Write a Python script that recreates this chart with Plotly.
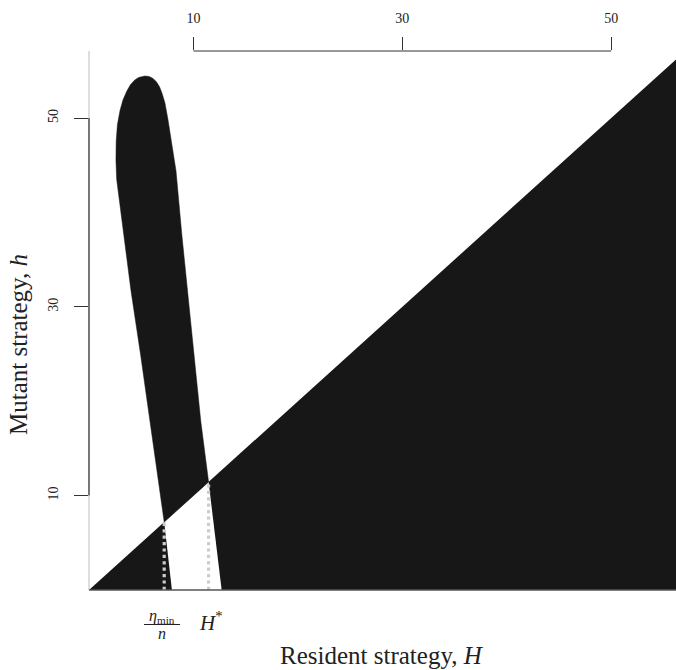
import plotly.graph_objects as go

# ---- data ----
tick_vals = [10, 30, 50]
tick_text = ["10", "30", "50"]

eta_min_n = 7.2      # left boundary meets the diagonal
H_star = 11.45       # right boundary meets the diagonal

# left boundary of the loop, from h=0 up to the cap
left_H = [7.94, 7.2, 6.45, 5.74, 4.93, 4.02, 3.35, 2.85, 2.65, 2.58, 2.6, 2.72, 2.97, 3.25, 3.6, 3.95, 4.35, 4.75, 5.1, 5.36]
left_h = [0.0, 7.2, 13.0, 19.0, 25.0, 31.7, 37.5, 41.5, 43.5, 45.5, 47.5, 49.3, 50.8, 51.9, 52.8, 53.5, 54.0, 54.3, 54.43, 54.45]
# right boundary of the loop, from h=0 up to the cap
right_H = [12.7, 11.45, 10.7, 10.0, 9.47, 8.9, 8.33, 7.85, 7.55, 7.27, 7.0, 6.75, 6.45, 6.1, 5.75, 5.36]
right_h = [0.0, 11.45, 17.9, 25.0, 31.2, 37.5, 44.4, 47.6, 49.9, 51.6, 52.6, 53.3, 53.85, 54.2, 54.4, 54.45]

x_max = 56.2
y_max = 57.1

BLACK = "#171717"
FONT = "Liberation Serif"

W, H = 676, 670
L, T, B = 89, 51, 80
PW, PH = W - L, H - T - B   # plot area in px


def px_x(xp):  # pixel x -> paper x
    return (xp - L) / PW


def px_y(yp):  # pixel y -> paper y
    return (H - B - yp) / PH


fig = go.Figure()

# region below the diagonal (mutant h < resident H)
tri_H = [0, 70, 70, 0]
tri_h = [0, 0, 70, 0]
fig.add_trace(go.Scatter(x=tri_H, y=tri_h, fill="toself", fillcolor=BLACK,
                         mode="lines", line=dict(width=0, color=BLACK),
                         hoverinfo="skip", showlegend=False))

li = left_H.index(eta_min_n)
ri = right_H.index(H_star)

# white strip below the diagonal inside the loop
strip_H = left_H[:li + 1] + right_H[:ri + 1][::-1] + [left_H[0]]
strip_h = left_h[:li + 1] + right_h[:ri + 1][::-1] + [left_h[0]]
fig.add_trace(go.Scatter(x=strip_H, y=strip_h, fill="toself", fillcolor="white",
                         mode="lines", line=dict(width=0, color="white"),
                         hoverinfo="skip", showlegend=False))

# black tongue above the diagonal inside the loop
tongue_H = left_H[li:] + right_H[ri:][::-1] + [left_H[li]]
tongue_h = left_h[li:] + right_h[ri:][::-1] + [left_h[li]]
fig.add_trace(go.Scatter(x=tongue_H, y=tongue_h, fill="toself", fillcolor=BLACK,
                         mode="lines", line=dict(width=0.5, color=BLACK),
                         hoverinfo="skip", showlegend=False))

# dotted guide lines
for xv in [eta_min_n, H_star]:
    fig.add_trace(go.Scatter(x=[xv, xv], y=[0, xv], mode="lines",
                             line=dict(color="#cccccc", width=3.2, dash="dot"),
                             hoverinfo="skip", showlegend=False))

fig.update_layout(
    width=W, height=H,
    margin=dict(l=L, r=0, t=T, b=B, pad=0, autoexpand=False),
    plot_bgcolor="white", paper_bgcolor="white",
    font=dict(family=FONT, size=14, color="#222"),
    xaxis=dict(range=[0, x_max], side="top", tickvals=tick_vals, ticktext=tick_text,
               ticks="outside", ticklen=13, tickcolor="#333", tickwidth=1,
               showgrid=False, zeroline=False, showline=False, automargin=False,
               ticklabelstandoff=8, tickfont=dict(size=14), fixedrange=True),
    yaxis=dict(range=[0, y_max], tickvals=tick_vals, ticktext=tick_text,
               ticks="outside", ticklen=14, tickcolor="#333", tickwidth=1,
               showgrid=False, zeroline=False, showline=False, tickangle=-90,
               automargin=False, ticklabelstandoff=10, tickfont=dict(size=14),
               fixedrange=True),
)

shapes = [
    dict(type="line", xref="paper", yref="paper", x0=0, x1=0, y0=0, y1=1,
         line=dict(color="#bdbdbd", width=1)),
    dict(type="line", xref="paper", yref="paper", x0=0, x1=1, y0=0, y1=0,
         line=dict(color="#555555", width=1.5)),
    dict(type="line", xref="x", yref="paper", x0=tick_vals[0], x1=tick_vals[-1], y0=1, y1=1,
         line=dict(color="#333", width=1.2)),
    dict(type="line", xref="paper", yref="y", x0=0, x1=0, y0=tick_vals[0], y1=tick_vals[-1],
         line=dict(color="#333", width=1.2)),
    # fraction bar
    dict(type="line", xref="paper", yref="paper", x0=px_x(144), x1=px_x(180),
         y0=px_y(624.5), y1=px_y(624.5), line=dict(color="#222", width=1)),
]
fig.update_layout(shapes=shapes)

ann = [
    dict(x=px_x(162), y=px_y(616), text="<i>η</i><sub>min</sub>", font=dict(family=FONT, size=16)),
    dict(x=px_x(162), y=px_y(633), text="<i>n</i>", font=dict(family=FONT, size=16)),
    dict(x=px_x(211), y=px_y(621), text="<i>H</i><sup>*</sup>", font=dict(family=FONT, size=21)),
    dict(x=px_x(382), y=px_y(655), text="Resident strategy, <i>H</i>", font=dict(family=FONT, size=25)),
    dict(x=px_x(18), y=px_y(345), textangle=-90,
         text="Mutant strategy, <i>h</i>", font=dict(family=FONT, size=25)),
]
for a in ann:
    a.update(xref="paper", yref="paper", showarrow=False, xanchor="center", yanchor="middle")
fig.update_layout(annotations=ann)

fig.write_html("out.html", config={"displayModeBar": False, "staticPlot": True},
               post_script="document.body.style.margin='0';")
